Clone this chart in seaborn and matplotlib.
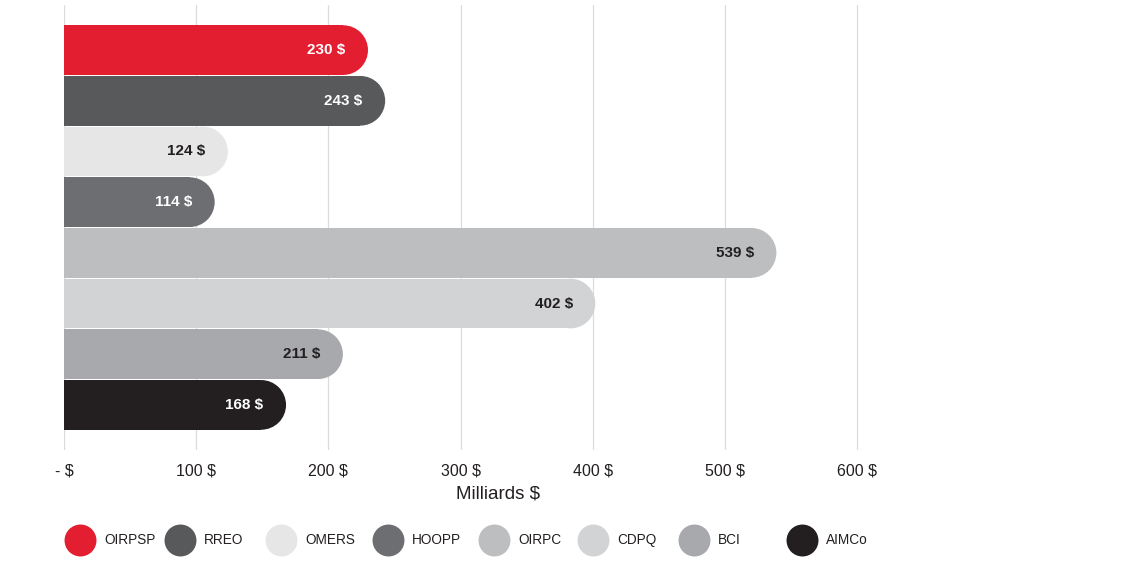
import matplotlib
matplotlib.use('Agg')
import matplotlib.pyplot as plt
from matplotlib.patches import Ellipse
from matplotlib.lines import Line2D
import seaborn as sns
import pandas as pd

# Data (billions of dollars)
funds = ['OIRPSP', 'RREO', 'OMERS', 'HOOPP', 'OIRPC', 'CDPQ', 'BCI', 'AIMCo']
assets = [230, 243, 124, 114, 539, 402, 211, 168]
colors = ['#E41E31', '#58595B', '#E6E6E6', '#6D6E71', '#BCBEC0', '#D1D3D4', '#A7A9AC', '#231F20']
label_colors = ['white', 'white', '#231F20', 'white', '#231F20', '#231F20', '#231F20', 'white']
ticks = [0, 100, 200, 300, 400, 500, 600]
tick_labels = ['- $', '100 $', '200 $', '300 $', '400 $', '500 $', '600 $']

sns.set_style('white')
plt.rcParams['font.family'] = ['Liberation Sans', 'DejaVu Sans']

df = pd.DataFrame({'fund': funds, 'assets': assets})

fig = plt.figure(figsize=(11.35, 5.64), dpi=100)
W, H = 1135, 564
px_per_unit = 793 / 600
x_max = 603
ax = fig.add_axes([64 / W, 1 - 450 / H, x_max * px_per_unit / W, 445 / H])

bar_h = 0.98
sns.barplot(data=df, x='assets', y='fund', hue='fund', palette=colors,
            orient='h', width=bar_h, saturation=1, legend=False, ax=ax, zorder=2)

ax.set_xlim(0, x_max)
ax.set_ylim(7.89, -0.89)

# round the right end of each bar
r_units = (bar_h * 445 / 8.78) / 2 / px_per_unit
for p in ax.patches[:len(funds)]:
    v = p.get_width()
    yc = p.get_y() + p.get_height() / 2
    p.set_width(v - r_units)
    p.set_linewidth(0)
    ax.add_patch(Ellipse((v - r_units, yc), 2 * r_units, p.get_height(),
                         facecolor=p.get_facecolor(), linewidth=0, zorder=2))

for i, v in enumerate(assets):
    ax.text(v - 17, i, f'{v} $', ha='right', va='center', fontsize=11,
            fontweight='bold', color=label_colors[i], zorder=3)

ax.set_xticks(ticks)
ax.set_xticklabels(tick_labels, fontsize=11.5, color='#231F20')
ax.tick_params(axis='x', length=0, pad=10)
ax.set_yticks([])
ax.set_ylabel('')
ax.set_xlabel('Milliards $', fontsize=13.5, color='#231F20')
ax.xaxis.set_label_coords((498 - 64) / (x_max * px_per_unit), -(486 - 450) / 445)
ax.grid(axis='x', color='#DCDCDC', linewidth=0.9, zorder=0)
ax.set_axisbelow(True)
for s in ax.spines.values():
    s.set_visible(False)

# legend: circle markers with names
legend_x = [80, 180, 281, 388, 494, 593, 694, 802]
legend_y = 1 - 540 / H
for name, c, x in zip(funds, colors, legend_x):
    fig.add_artist(Line2D([x / W], [legend_y], marker='o', linestyle='', markersize=23,
                          markerfacecolor=c, markeredgewidth=0, transform=fig.transFigure))
    fig.text((x + 24) / W, legend_y, name, ha='left', va='center', fontsize=9.8,
             color='#231F20')

fig.savefig('out.png', dpi=100)
